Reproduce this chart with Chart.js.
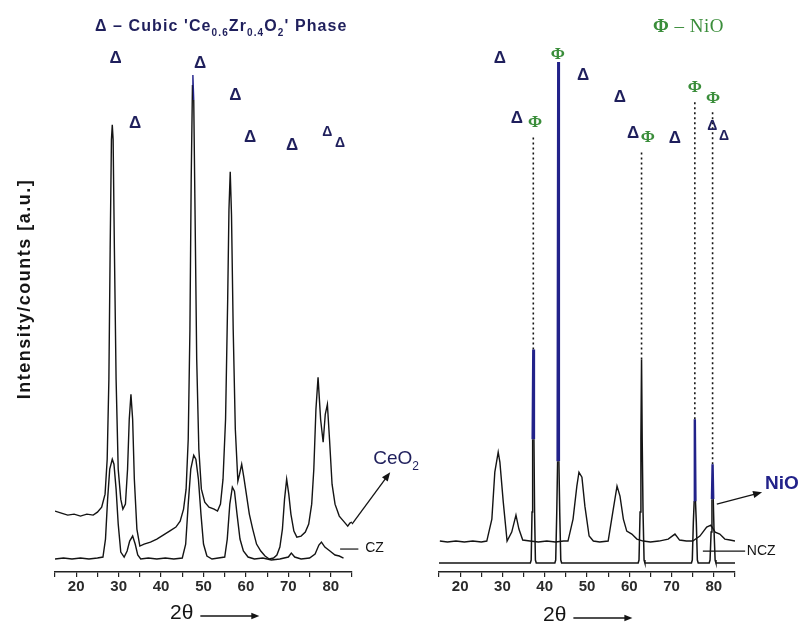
<!DOCTYPE html>
<html>
<head>
<meta charset="utf-8">
<script src="https://cdn.jsdelivr.net/npm/chart.js"></script>
<style>
  body { margin: 0; background: #fff; }
  #wrap { position: relative; width: 800px; height: 625px; }
  canvas { position: absolute; top: 0; }
  #leftChart { left: 0; }
  #rightChart { left: 420px; }
</style>
</head>
<body>
<div id="wrap">
  <canvas id="leftChart" width="430" height="625"></canvas>
  <canvas id="rightChart" width="380" height="625"></canvas>
</div>
<script>
// XRD patterns, [2theta, intensity a.u.]
const ceo2Pattern = [
  [15.0,61],[16.5,59],[18.0,57],[19.5,58],[21.0,56],[22.5,58],[24.0,57],[25.0,60],[26.0,65],[26.8,78],
  [27.3,113],[27.7,193],[28.0,323],[28.3,433],[28.5,448],[28.7,433],[29.0,323],[29.4,193],[29.9,103],[30.5,73],
  [31.0,63],[31.6,68],[32.1,103],[32.5,153],[32.9,178],[33.3,153],[33.7,93],[34.3,43],[35.0,26],[36.0,28],
  [37.5,30],[39.0,33],[40.5,37],[42.0,41],[43.5,45],[44.5,51],[45.3,63],[45.9,83],[46.4,133],[46.8,243],
  [47.1,393],[47.4,488],[47.5,498],[47.7,473],[48.0,363],[48.4,213],[48.9,123],[49.5,83],[50.3,70],[51.3,65],
  [52.5,63],[53.3,61],[54.0,68],[54.6,93],[55.2,153],[55.7,273],[56.0,363],[56.3,401],[56.6,358],[57.0,243],
  [57.5,143],[58.1,91],[58.5,98],[59.0,108],[59.5,95],[60.1,78],[60.8,58],[61.6,43],[62.5,28],[63.5,21],
  [64.5,16],[65.5,13],[66.5,14],[67.3,17],[68.0,25],[68.6,43],[69.1,73],[69.6,93],[70.1,78],[70.6,58],
  [71.3,41],[72.0,35],[73.0,36],[74.0,40],[74.8,48],[75.5,68],[76.0,103],[76.5,163],[77.0,195],[77.6,153],
  [78.2,130],[78.7,158],[79.2,168],[79.7,133],[80.3,88],[81.0,68],[82.0,56],[83.0,51],[84.0,46],[84.5,49],[85.0,50]
];
const czPattern = [
  [15.0,13],[17.0,14],[19.0,13],[21.0,14],[23.0,13],[25.0,14],[26.3,15],[26.9,33],[27.4,73],[27.9,103],
  [28.5,113],[28.9,108],[29.4,83],[29.9,48],[30.5,20],[31.3,15],[32.0,21],[32.6,31],[33.3,36],[33.9,28],
  [34.5,17],[35.2,13],[37.0,14],[39.0,13],[41.0,14],[43.0,13],[45.0,14],[45.8,28],[46.4,68],[47.0,103],
  [47.7,117],[48.2,113],[48.8,93],[49.4,58],[50.0,28],[50.8,16],[52.0,13],[53.5,14],[55.0,15],[55.6,33],
  [56.2,68],[56.8,85],[57.3,81],[57.9,58],[58.6,33],[59.4,21],[60.5,15],[62.0,13],[64.0,14],[66.0,12],
  [68.0,13],[70.0,15],[70.7,19],[71.5,15],[73.0,13],[75.0,14],[76.3,18],[77.2,27],[77.8,30],[78.6,25],
  [79.8,21],[81.0,17],[82.0,16],[83.0,14]
];
const nczPattern = [
  [15.2,31],[17,30],[19,31],[21,30],[23,31],[25,30],[26.3,31],[27.5,53],[28.2,100],[29.0,120],
  [29.4,110],[30.2,70],[31.1,31],[32.2,40],[33.2,57],[33.9,43],[34.8,32],[36.5,31],[38.5,30],[40.5,31],
  [42.5,30],[44.5,31],[45.5,31],[46.7,53],[47.6,86],[48.1,100],[48.8,95],[49.5,66],[50.5,36],[51.5,31],
  [53,30],[55,31],[56.1,60],[57.1,86],[57.8,76],[58.6,53],[59.4,41],[60.6,38],[61.8,33],[63.3,31],
  [65,30],[67,31],[69.2,33],[70.8,38],[71.9,32],[73.5,31],[75.0,31],[76.7,36],[78.3,45],[79.3,47],
  [80.3,40],[81.4,38],[82.6,33],[83.8,32],[85.0,31]
];
const nioPattern = [
  [15,9],[36.6,9],[36.8,12],[37.0,60],[37.15,133],[37.3,223],[37.45,133],[37.6,60],[37.8,12],[38.0,9],
  [42.4,9],[42.6,12],[42.85,60],[43.05,111],[43.2,511],[43.35,111],[43.55,60],[43.8,12],[44.0,9],
  [62.1,9],[62.3,12],[62.55,60],[62.75,133],[62.9,213],[63.05,133],[63.25,60],[63.5,12],[63.7,9],
  [74.7,9],[74.9,12],[75.15,50],[75.35,71],[75.5,153],[75.65,71],[75.85,50],[76.1,12],[76.3,9],
  [78.9,9],[79.1,12],[79.35,40],[79.55,73],[79.7,108],[79.85,73],[80.05,40],[80.3,12],[80.5,9],[85,9]
];
// dotted guides above the NiO reflections: [2theta, from, to]
const nioGuides = [[37.3,223,438],[62.9,213,423],[75.5,153,473],[79.7,108,463]];
const nioBlackPeaks = [62.9];

// phase markers [2theta, level]
const leftDelta = [[29.3,515],[33.9,450],[49.2,510],[57.5,478],[61.0,436],[70.9,428]];
const leftDeltaSmall = [[79.2,441],[82.2,430]];
const rightDelta = [[29.4,515],[33.4,455],[49.1,498],[57.8,476],[60.9,440],[70.8,435]];
const rightDeltaSmall = [[79.6,447],[82.4,437]];
const rightPhi = [[43.1,518],[37.7,450],[64.4,435],[75.5,485],[79.8,474]];

const tickLabels = [20, 30, 40, 50, 60, 70, 80];

const SANS = '"Liberation Sans", Arial, sans-serif';
const SERIF = '"Liberation Serif", "Times New Roman", serif';
const NAVY = '#1f1f5c';
const BLUE = '#22228a';
const GREEN = '#3a8d3a';
const INK = '#141414';

function toPoints(pairs) {
  return pairs.map(([x, y]) => ({ x: x, y: y }));
}

function xAxis() {
  return {
    type: 'linear', min: 15, max: 85,
    grid: { display: true, drawOnChartArea: false, drawTicks: true, tickLength: 5, color: '#222', lineWidth: 1.2 },
    border: { display: true, color: '#222', width: 1.5 },
    ticks: {
      stepSize: 5, padding: 1, color: '#2a2a2a', autoSkip: false, maxRotation: 0,
      font: { family: SANS, size: 15, weight: 'bold' },
      callback: v => tickLabels.includes(v) ? String(v) : ''
    }
  };
}

function glyph(ctx, text, px, py, font, color, spacing) {
  ctx.font = font;
  ctx.fillStyle = color;
  ctx.textAlign = 'center';
  ctx.textBaseline = 'middle';
  ctx.letterSpacing = spacing || '0px';
  ctx.fillText(text, px, py);
  ctx.letterSpacing = '0px';
}

// runs of text with optional subscripts, left aligned
function richText(ctx, runs, px, py, size, weight, family, color, spacing) {
  ctx.save();
  ctx.fillStyle = color;
  ctx.textAlign = 'left';
  ctx.textBaseline = 'middle';
  ctx.letterSpacing = spacing || '0px';
  let cx = px;
  runs.forEach(r => {
    const s = r.sub ? Math.round(size * 0.62) : size;
    ctx.font = (r.bold || weight) + ' ' + s + 'px ' + family;
    ctx.fillText(r.t, cx, py + (r.sub ? size * 0.38 : 0));
    cx += ctx.measureText(r.t).width;
  });
  ctx.restore();
  return cx;
}

function arrow(ctx, x1, y1, x2, y2, head) {
  const a = Math.atan2(y2 - y1, x2 - x1);
  ctx.save();
  ctx.strokeStyle = INK;
  ctx.fillStyle = INK;
  ctx.lineWidth = 1.3;
  ctx.beginPath();
  ctx.moveTo(x1, y1);
  ctx.lineTo(x2 - Math.cos(a) * head * 0.6, y2 - Math.sin(a) * head * 0.6);
  ctx.stroke();
  ctx.beginPath();
  ctx.moveTo(x2, y2);
  ctx.lineTo(x2 - head * Math.cos(a) + head * 0.4 * Math.sin(a), y2 - head * Math.sin(a) - head * 0.4 * Math.cos(a));
  ctx.lineTo(x2 - head * Math.cos(a) - head * 0.4 * Math.sin(a), y2 - head * Math.sin(a) + head * 0.4 * Math.cos(a));
  ctx.closePath();
  ctx.fill();
  ctx.restore();
}

function thetaTitle(ctx, px, py) {
  ctx.save();
  ctx.font = '21px ' + SANS;
  ctx.fillStyle = INK;
  ctx.textAlign = 'left';
  ctx.textBaseline = 'middle';
  ctx.fillText('2θ', px, py);
  const w = ctx.measureText('2θ').width;
  arrow(ctx, px + w + 7, py + 3, px + w + 66, py + 3, 8);
  ctx.restore();
}

const leftDecor = {
  id: 'leftDecor',
  afterDatasetsDraw(chart) {
    const { ctx, chartArea } = chart;
    const X = v => chart.scales.x.getPixelForValue(v);
    const Y = v => chart.scales.y.getPixelForValue(v);
    ctx.save();
    leftDelta.forEach(([t, l]) => glyph(ctx, 'Δ', X(t), Y(l), 'bold 17px ' + SANS, NAVY));
    leftDeltaSmall.forEach(([t, l]) => glyph(ctx, 'Δ', X(t), Y(l), 'bold 14px ' + SANS, NAVY));

    richText(ctx, [
      { t: 'Δ', bold: 'bold' }, { t: ' – Cubic \'Ce' }, { t: '0.6', sub: true }, { t: 'Zr' },
      { t: '0.4', sub: true }, { t: 'O' }, { t: '2', sub: true }, { t: '\' Phase' }
    ], X(24.4), Y(546), 16, 'bold', SANS, NAVY, '1.1px');

    // y title
    ctx.save();
    ctx.translate(25, 289);
    ctx.rotate(-Math.PI / 2);
    glyph(ctx, 'Intensity/counts [a.u.]', 0, 0, 'bold 18px ' + SANS, INK, '1.5px');
    ctx.restore();

    thetaTitle(ctx, X(42.1), chartArea.bottom + 41);

    // sample labels
    richText(ctx, [{ t: 'CeO' }, { t: '2', sub: true }], X(90.0), Y(113), 19, 'normal', SANS, NAVY);
    arrow(ctx, X(85.0), Y(48), X(94.0), Y(100), 9);
    ctx.strokeStyle = INK;
    ctx.lineWidth = 1.2;
    ctx.beginPath();
    ctx.moveTo(X(82.2), Y(23));
    ctx.lineTo(X(86.5), Y(23));
    ctx.stroke();
    richText(ctx, [{ t: 'CZ' }], X(88.1), Y(24), 14, 'normal', SANS, INK);
    ctx.restore();
  }
};

const rightDecor = {
  id: 'rightDecor',
  afterDatasetsDraw(chart) {
    const { ctx, chartArea } = chart;
    const X = v => chart.scales.x.getPixelForValue(v);
    const Y = v => chart.scales.y.getPixelForValue(v);
    ctx.save();
    rightDelta.forEach(([t, l]) => glyph(ctx, 'Δ', X(t), Y(l), 'bold 17px ' + SANS, NAVY));
    rightDeltaSmall.forEach(([t, l]) => glyph(ctx, 'Δ', X(t), Y(l), 'bold 14px ' + SANS, NAVY));
    rightPhi.forEach(([t, l]) => glyph(ctx, 'Φ', X(t), Y(l), 'bold 17px ' + SERIF, GREEN));

    richText(ctx, [{ t: 'Φ', bold: 'bold' }, { t: ' – NiO' }], X(65.6), Y(546), 19, 'normal', SERIF, GREEN, '0.5px');

    thetaTitle(ctx, X(39.6), chartArea.bottom + 43);

    richText(ctx, [{ t: 'NiO' }], X(92.1), Y(88), 19, 'bold', SANS, BLUE);
    arrow(ctx, X(80.7), Y(68), X(91.4), Y(80), 9);
    ctx.strokeStyle = INK;
    ctx.lineWidth = 1.2;
    ctx.beginPath();
    ctx.moveTo(X(77.4), Y(21));
    ctx.lineTo(X(87.4), Y(21));
    ctx.stroke();
    richText(ctx, [{ t: 'NCZ' }], X(87.8), Y(21), 14, 'normal', SANS, INK);
    ctx.restore();
  }
};

const common = {
  responsive: false,
  animation: false,
  events: [],
  plugins: { legend: { display: false }, tooltip: { enabled: false } },
  elements: { point: { radius: 0 }, line: { tension: 0 } }
};

new Chart(document.getElementById('leftChart'), {
  type: 'line',
  data: {
    datasets: [
      {
        label: 'CeO2', data: toPoints(ceo2Pattern), borderColor: INK, borderWidth: 1.4,
        segment: { borderColor: c => (c.p0.parsed.y > 440 && c.p1.parsed.y > 440) ? BLUE : undefined }
      },
      { label: 'CZ', data: toPoints(czPattern), borderColor: INK, borderWidth: 1.4 }
    ]
  },
  options: Object.assign({}, common, {
    layout: { padding: { left: 55, right: 78, top: 53, bottom: 28 } },
    scales: { x: xAxis(), y: { display: false, min: 0, max: 520 } }
  }),
  plugins: [leftDecor]
});

const guideSets = nioGuides.map(([t, a, b]) => ({
  label: 'guide', data: [{ x: t, y: a }, { x: t, y: b }],
  borderColor: INK, borderWidth: 1.6, borderDash: [2, 3]
}));

const isBlueSeg = c => c.p0.parsed.y >= 70 && c.p1.parsed.y >= 70 &&
  !nioBlackPeaks.some(p => Math.abs(c.p0.parsed.x - p) < 1);

new Chart(document.getElementById('rightChart'), {
  type: 'line',
  data: {
    datasets: [
      {
        label: 'NiO', data: toPoints(nioPattern), borderColor: INK, borderWidth: 1.5,
        segment: {
          borderColor: c => isBlueSeg(c) ? BLUE : undefined,
          borderWidth: c => isBlueSeg(c) ? 2.4 : undefined
        }
      },
      { label: 'NCZ', data: toPoints(nczPattern), borderColor: INK, borderWidth: 1.4 }
    ].concat(guideSets)
  },
  options: Object.assign({}, common, {
    layout: { padding: { left: 19, right: 65, top: 53, bottom: 28 } },
    scales: { x: xAxis(), y: { display: false, min: 0, max: 520 } }
  }),
  plugins: [rightDecor]
});
</script>
</body>
</html>
